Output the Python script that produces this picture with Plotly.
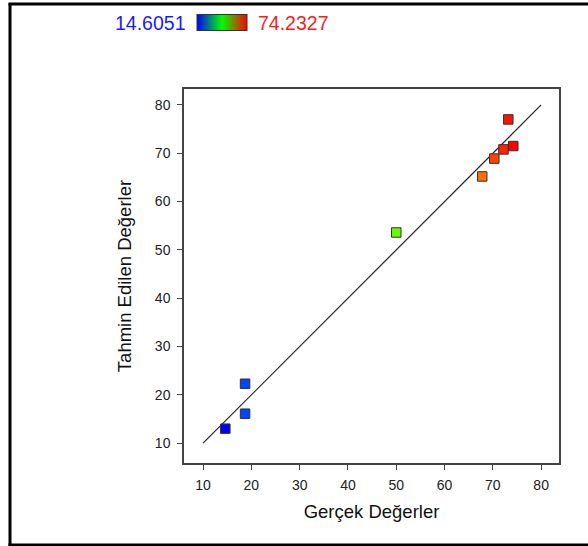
import plotly.graph_objects as go

actual = [14.6051, 18.7, 18.7, 50.0, 67.8, 70.3, 72.2, 74.2327, 73.2]
predicted = [13.0, 22.3, 16.1, 53.6, 65.2, 68.9, 70.8, 71.5, 77.0]
line_x = [10, 80]
line_y = [10, 80]
cmin, cmax = 14.6051, 74.2327
min_label = "14.6051"
max_label = "74.2327"

W, H = 588, 546
L, R, T, B = 184, 29, 89, 83
PW, PH = W - L - R, H - T - B

def px(x):
    return (x - L) / PW

def py(y):
    return (H - B - y) / PH

hsv_scale = [[0, "#0000ff"], [0.25, "#00ffff"], [0.5, "#00ff00"], [0.75, "#ffff00"], [1, "#ff0000"]]
bar_scale = [[0, "#0000ff"], [0.5, "#00ff00"], [1, "#ff0000"]]
FONT = "Arial, Liberation Sans, sans-serif"

fig = go.Figure()
fig.add_trace(go.Scatter(x=line_x, y=line_y, mode="lines",
                         line=dict(color="#222222", width=1.2), hoverinfo="skip", showlegend=False))
fig.add_trace(go.Scatter(
    x=actual, y=predicted, mode="markers", showlegend=False,
    marker=dict(symbol="square", size=9.5, color=actual, colorscale=hsv_scale,
                cmin=cmin, cmax=cmax, line=dict(color="#333333", width=1), showscale=False)))
# colorbar legend (gradient box)
fig.add_trace(go.Scatter(
    x=[None], y=[None], mode="markers", showlegend=False, hoverinfo="skip",
    marker=dict(color=[cmin], colorscale=bar_scale, cmin=cmin, cmax=cmax, showscale=True,
                colorbar=dict(orientation="h", lenmode="pixels", len=50, thickness=16,
                              thicknessmode="pixels", x=px(222), xanchor="center",
                              y=py(23), yanchor="middle", xpad=0, ypad=0,
                              outlinewidth=1, outlinecolor="#333333",
                              ticks="", showticklabels=False))))

fig.add_annotation(x=px(188), y=py(23), xref="paper", yref="paper", text=min_label,
                   showarrow=False, xanchor="right", yanchor="middle",
                   font=dict(size=19.5, color="#1a1aff", family=FONT))
fig.add_annotation(x=px(256), y=py(23), xref="paper", yref="paper", text=max_label,
                   showarrow=False, xanchor="left", yanchor="middle",
                   font=dict(size=19.5, color="#ff1a1a", family=FONT))

# outer frame (left, top, bottom)
frame = dict(color="black", width=3)
fig.add_shape(type="line", xref="paper", yref="paper", x0=px(10), x1=px(10),
              y0=py(546), y1=py(3.5), line=frame, layer="above")
fig.add_shape(type="line", xref="paper", yref="paper", x0=px(8.5), x1=px(600),
              y0=py(4), y1=py(4), line=frame, layer="above")
fig.add_shape(type="line", xref="paper", yref="paper", x0=px(8.5), x1=px(600),
              y0=py(545), y1=py(545), line=frame, layer="above")

axis_common = dict(showline=True, mirror=True, linecolor="#444444", linewidth=1.5,
                   ticks="outside", ticklen=5, tickcolor="#444444", tickwidth=1,
                   showgrid=False, zeroline=False, dtick=10,
                   tickfont=dict(size=14, color="#222222", family=FONT))

fig.update_xaxes(range=[6.05, 83.7], tick0=10, ticklabelstandoff=3,
                 title=dict(text="Gerçek Değerler", standoff=14,
                            font=dict(size=18.5, color="#111111", family=FONT)),
                 **axis_common)
fig.update_yaxes(range=[5.9, 83.3], tick0=10, ticklabelstandoff=4,
                 title=dict(text="Tahmin Edilen Değerler", standoff=18,
                            font=dict(size=18.5, color="#111111", family=FONT)),
                 **axis_common)

fig.update_layout(width=W, height=H, margin=dict(l=L, r=R, t=T, b=B, autoexpand=False),
                  plot_bgcolor="white", paper_bgcolor="white",
                  font=dict(family=FONT))

fig.write_html("out.html", config={"displayModeBar": False},
               post_script="document.body.style.margin='0';")
